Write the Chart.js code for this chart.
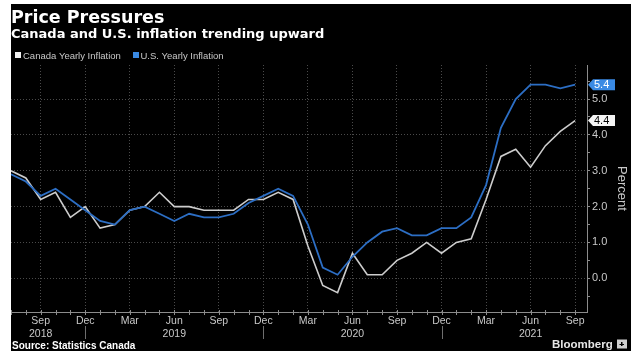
<!DOCTYPE html>
<html><head><meta charset="utf-8">
<script src="https://cdn.jsdelivr.net/npm/chart.js@4.4.1/dist/chart.umd.min.js"></script>
<style>html,body{margin:0;padding:0;background:#fff;}canvas{display:block;}</style>
</head><body>
<canvas id="c" width="644" height="360"></canvas>
<script>
// ---- data ----
const months = [
 'Jul 2018','Aug 2018','Sep 2018','Oct 2018','Nov 2018','Dec 2018',
 'Jan 2019','Feb 2019','Mar 2019','Apr 2019','May 2019','Jun 2019','Jul 2019','Aug 2019','Sep 2019','Oct 2019','Nov 2019','Dec 2019',
 'Jan 2020','Feb 2020','Mar 2020','Apr 2020','May 2020','Jun 2020','Jul 2020','Aug 2020','Sep 2020','Oct 2020','Nov 2020','Dec 2020',
 'Jan 2021','Feb 2021','Mar 2021','Apr 2021','May 2021','Jun 2021','Jul 2021','Aug 2021','Sep 2021'];
const canada = [3.0,2.8,2.2,2.4,1.7,2.0,
 1.4,1.5,1.9,2.0,2.4,2.0,2.0,1.9,1.9,1.9,2.2,2.2,
 2.4,2.2,0.9,-0.2,-0.4,0.7,0.1,0.1,0.5,0.7,1.0,0.7,
 1.0,1.1,2.2,3.4,3.6,3.1,3.7,4.1,4.4];
const us = [2.9,2.7,2.3,2.5,2.2,1.9,
 1.6,1.5,1.9,2.0,1.8,1.6,1.8,1.7,1.7,1.8,2.1,2.3,
 2.5,2.3,1.5,0.3,0.1,0.6,1.0,1.3,1.4,1.2,1.2,1.4,
 1.4,1.7,2.6,4.2,5.0,5.4,5.4,5.3,5.4];
const xTickMonths = ['Sep 2018','Dec 2018','Mar 2019','Jun 2019','Sep 2019','Dec 2019','Mar 2020','Jun 2020','Sep 2020','Dec 2020','Mar 2021','Jun 2021','Sep 2021'];
const yearLabelMonths = ['Sep 2018','Jun 2019','Jun 2020','Jun 2021'];
const yearBreakMonths = ['Dec 2018','Dec 2019','Dec 2020'];
const yTicks = [0,1,2,3,4,5];
const yMinorTicks = [-0.5,0,0.5,1,1.5,2,2.5,3,3.5,4,4.5,5,5.5];
const seriesNames = ['Canada Yearly Inflation','U.S. Yearly Inflation'];
const titleText = 'Price Pressures';
const subtitleText = 'Canada and U.S. inflation trending upward';
const sourceText = 'Source: Statistics Canada';
const yAxisTitle = 'Percent';

const CAN_COLOR = '#cdcdcd';
const US_COLOR = '#2c6ec4';
const US_LABEL = '#3a8ae4';
const GRID = '#4a4a4a';
const AXIS = '#8c8c8c';
const TXT = '#c8c8c8';

const deco = {
  id: 'deco',
  beforeDraw(chart) {
    const c = chart.ctx;
    c.save();
    c.fillStyle = '#fff'; c.fillRect(0, 0, 644, 360);
    c.fillStyle = '#000'; c.fillRect(11, 4, 620, 347);
    c.restore();
  },
  afterDraw(chart) {
    const c = chart.ctx;
    const xs = chart.scales.x, ys = chart.scales.y;
    c.save();
    // titles
    c.fillStyle = '#fff';
    c.textBaseline = 'alphabetic';
    c.textAlign = 'left';
    c.font = 'bold 17.5px "DejaVu Sans"';
    c.fillText(titleText, 11, 23);
    c.font = 'bold 13px "DejaVu Sans"';
    c.fillText(subtitleText, 11, 37.5);
    // legend
    c.font = '9.5px "Liberation Sans"';
    c.fillStyle = '#f2f2f2'; c.fillRect(15, 52, 6, 6);
    c.fillStyle = TXT; c.fillText(seriesNames[0], 23, 58.5);
    c.fillStyle = US_LABEL; c.fillRect(133, 52, 6, 6);
    c.fillStyle = TXT; c.fillText(seriesNames[1], 140.5, 58.5);
    // monthly tick marks on x axis
    c.strokeStyle = AXIS; c.lineWidth = 1;
    c.beginPath();
    months.forEach((m, i) => {
      const x = Math.round(xs.getPixelForValue(i)) + 0.5;
      c.moveTo(x, 310); c.lineTo(x, 315);
    });
    c.stroke();
    // year separators
    c.strokeStyle = '#6e6e6e';
    c.beginPath();
    yearBreakMonths.forEach(m => {
      const x = Math.round(xs.getPixelForValue(months.indexOf(m))) + 0.5;
      c.moveTo(x, 326); c.lineTo(x, 339);
    });
    c.stroke();
    // last value labels
    const boxes = [
      {v: us[us.length - 1], bg: US_LABEL, fg: '#fff'},
      {v: canada[canada.length - 1], bg: '#f4f4f4', fg: '#000'}
    ];
    boxes.forEach(b => {
      const y = ys.getPixelForValue(b.v);
      c.fillStyle = b.bg;
      c.beginPath();
      c.moveTo(588, y); c.lineTo(593, y - 5.5); c.lineTo(615, y - 5.5);
      c.lineTo(615, y + 5.5); c.lineTo(593, y + 5.5); c.closePath();
      c.fill();
      c.fillStyle = b.fg;
      c.font = '11px "Liberation Sans"';
      c.textBaseline = 'middle';
      c.fillText(b.v.toFixed(1), 594, y + 0.5);
    });
    // axis title
    c.save();
    c.translate(617.5, (chart.chartArea.top + chart.chartArea.bottom) / 2);
    c.rotate(Math.PI / 2);
    c.textAlign = 'center'; c.textBaseline = 'alphabetic';
    c.fillStyle = TXT;
    c.font = '13px "Liberation Sans"';
    c.fillText(yAxisTitle, 0, 0);
    c.restore();
    // source & brand
    c.textBaseline = 'alphabetic';
    c.textAlign = 'left';
    c.fillStyle = '#fff';
    c.font = 'bold 10px "Liberation Sans"';
    c.fillText(sourceText, 12, 348.5);
    c.fillStyle = '#e6e6e6';
    c.font = 'bold 11.5px "Liberation Sans"';
    c.fillText('Bloomberg', 552, 348);
    // small icon
    c.fillStyle = '#cfcfcf';
    c.fillRect(617, 339.5, 10, 9);
    c.fillStyle = '#000';
    c.fillRect(621, 342, 1.5, 4);
    c.fillRect(619.5, 344, 4.5, 1);
    c.restore();
  }
};

new Chart(document.getElementById('c'), {
  type: 'line',
  data: {
    datasets: [
      {label: seriesNames[0], data: canada.map((v, i) => ({x: i, y: v})), borderColor: CAN_COLOR, borderWidth: 1.6, pointRadius: 0, tension: 0, order: 1},
      {label: seriesNames[1], data: us.map((v, i) => ({x: i, y: v})), borderColor: US_COLOR, borderWidth: 1.8, pointRadius: 0, tension: 0, order: 0}
    ]
  },
  options: {
    responsive: false, animation: false, devicePixelRatio: 1,
    layout: {padding: {left: 11, top: 65, right: 0, bottom: 0}},
    plugins: {legend: {display: false}, tooltip: {enabled: false}, title: {display: false}},
    scales: {
      x: {
        type: 'linear', min: 0, max: 38.8,
        afterBuildTicks: s => { s.ticks = months.map((m, i) => ({value: i})); },
        afterFit: s => { s.height = 48; },
        ticks: {
          autoSkip: false, maxRotation: 0, minRotation: 0, padding: 2, color: TXT,
          font: {family: 'Liberation Sans', size: 10.5, lineHeight: 1.3},
          callback: v => {
            const m = months[v];
            if (!xTickMonths.includes(m)) return '';
            const parts = m.split(' ');
            return yearLabelMonths.includes(m) ? [parts[0], parts[1]] : parts[0];
          }
        },
        grid: {drawTicks: false, color: c => (c.tick && xTickMonths.includes(months[c.tick.value])) ? GRID : 'rgba(0,0,0,0)', lineWidth: 1},
        border: {display: true, color: AXIS, width: 1, dash: [1, 2]}
      },
      y: {
        position: 'right', min: -0.94, max: 5.95,
        afterBuildTicks: s => { s.ticks = yMinorTicks.map(v => ({value: v})); },
        afterFit: s => { s.width = 57; },
        ticks: {
          color: TXT, padding: 2, font: {family: 'Liberation Sans', size: 11},
          callback: v => yTicks.includes(v) ? v.toFixed(1) : ''
        },
        grid: {color: c => (c.tick && yTicks.includes(c.tick.value)) ? GRID : 'rgba(0,0,0,0)', tickColor: AXIS, tickLength: 3, drawTicks: true, lineWidth: 1},
        border: {display: true, color: AXIS, width: 1, dash: [1, 2]}
      }
    }
  },
  plugins: [deco]
});
</script>
</body></html>
